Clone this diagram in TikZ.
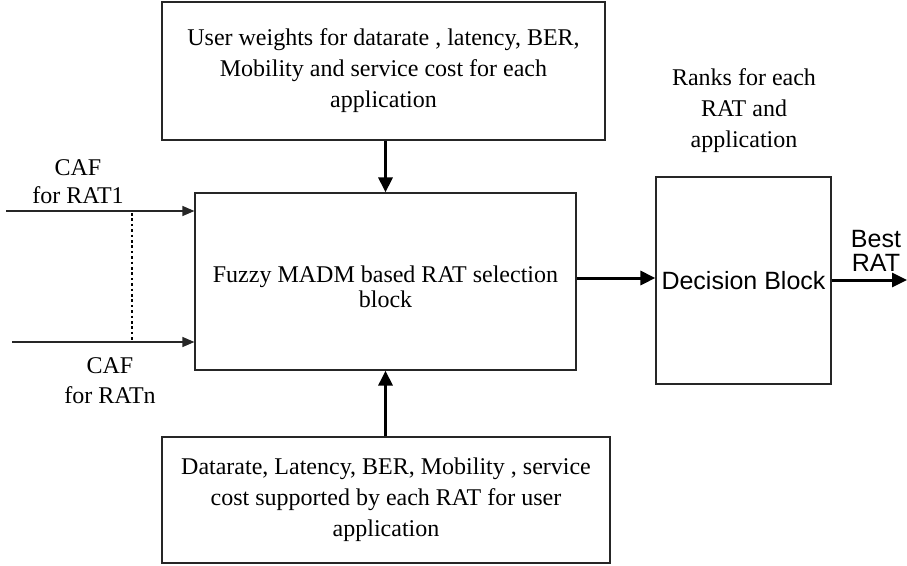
\documentclass[tikz,border=0pt]{standalone}
\usepackage{fontspec}
\setmainfont{Liberation Serif}
\newfontfamily\arialf{Liberation Sans}
\usetikzlibrary{arrows.meta}
\tikzset{
  boxnode/.style={draw=black!85, line width=1.2pt, inner sep=0pt, align=center,
    font=\fontsize{24}{31}\selectfont},
  bigarrow/.style={line width=3pt, -{Triangle[length=15pt,width=14pt]}},
  cafarrow/.style={line width=1.3pt, black!85, -{Triangle[length=12pt,width=10pt]}},
  lbl/.style={align=center, inner sep=0pt, font=\fontsize{24}{30}\selectfont},
}
\begin{document}
\begin{tikzpicture}[x=1pt,y=-1pt]
\useasboundingbox (0,0) rectangle (907,565);
% boxes
\node[boxnode, minimum width=443pt, minimum height=138pt] (top) at (383.5,71)
  {User weights for datarate , latency, BER,\\Mobility and service cost for each\\application};
\node[boxnode, minimum width=381pt, minimum height=177pt] (main) at (385.5,281.5) {};
\node[lbl, font=\fontsize{24}{25}\selectfont] (fuzzytext) at (385.5,287)
  {Fuzzy MADM based RAT selection\\block};
\node[boxnode, minimum width=175pt, minimum height=207pt,
  font=\arialf\fontsize{25}{28}\selectfont] (dec) at (743.5,280.5) {Decision Block};
\node[boxnode, minimum width=448pt, minimum height=126pt] (bot) at (386,500)
  {Datarate, Latency, BER, Mobility , service\\cost supported by each RAT for user\\application};
% labels
\node[lbl, font=\fontsize{24}{28}\selectfont] (caf1) at (78,182) {CAF\\for RAT1};
\node[lbl, font=\fontsize{24}{30}\selectfont] (cafn) at (110,381) {CAF\\for RATn};
\node[lbl, font=\fontsize{24}{31}\selectfont] (ranks) at (744,111) {Ranks for each\\RAT and\\application};
\node[lbl, font=\arialf\fontsize{25}{24}\selectfont] (best) at (876,251) {Best\\RAT};
% coordinates
\coordinate (c1) at (6,211);
\coordinate (cn) at (12,342);
\coordinate (d1) at (132,213);
\coordinate (dn) at (132,342);
\coordinate (outend) at (907,280);
% connectors
\draw[bigarrow] (top.south -| main.north) -- (main.north);
\draw[bigarrow] (bot.north -| main.south) -- (main.south);
\draw[bigarrow] (main.east |- 0,278) -- (dec.west |- 0,278);
\draw[bigarrow] (dec.east |- 0,280) -- (outend);
\draw[cafarrow] (c1) -- (main.west |- c1);
\draw[cafarrow] (cn) -- (main.west |- cn);
\draw[line width=2.6pt, dash pattern=on 2.6pt off 2.8pt] (d1) -- (dn);
\end{tikzpicture}
\end{document}
